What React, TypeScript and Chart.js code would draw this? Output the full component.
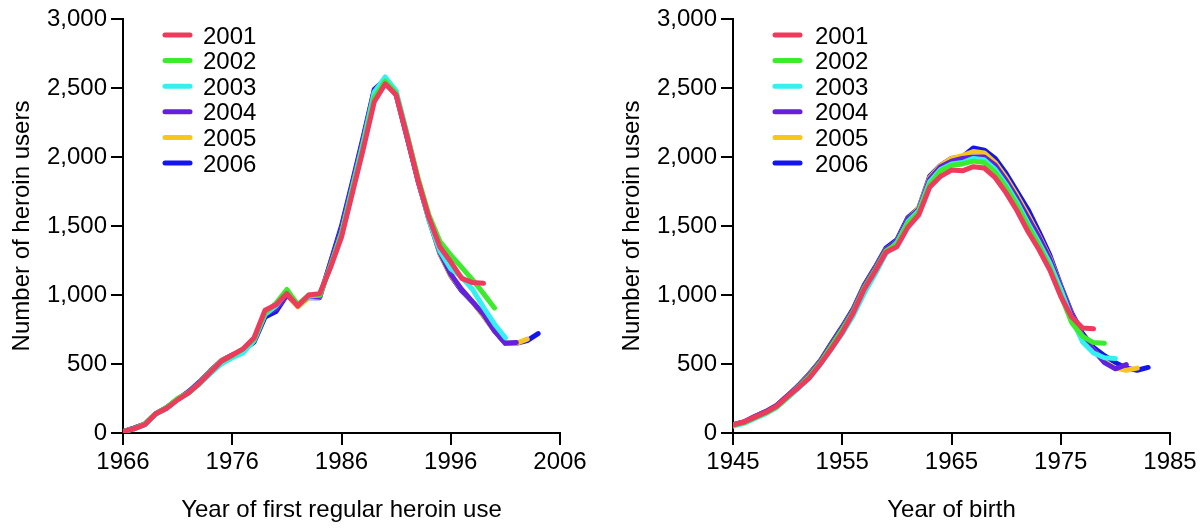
import React, { useEffect, useRef } from "react";
import { Chart, registerables } from "chart.js";

Chart.register(...registerables);

// ---------- data ----------
const seriesLabels = ["2001", "2002", "2003", "2004", "2005", "2006"];
const seriesColors = ["#EE3A5C", "#3DEB2E", "#34F0F0", "#6420DD", "#F7C51C", "#1414EE"];

// Left panel: year of first regular heroin use
const firstUseYears = [
  1966, 1967, 1968, 1969, 1970, 1971, 1972, 1973, 1974, 1975,
  1976, 1977, 1978, 1979, 1980, 1981, 1982, 1983, 1984, 1985,
  1986, 1987, 1988, 1989, 1990, 1991, 1992, 1993, 1994, 1995,
  1996, 1997, 1998, 1999, 2000, 2001, 2002, 2003, 2004,
];
const firstUse2001 = [10, 30, 60, 140, 180, 240, 290, 360, 440, 520, 565, 610, 690, 890, 930, 1010, 920, 1000, 1010, 1200, 1420, 1740, 2060, 2400, 2530, 2450, 2150, 1830, 1560, 1350, 1240, 1120, 1090, 1085];
const firstUse2002 = [10, 30, 65, 140, 185, 250, 290, 360, 445, 520, 560, 610, 680, 870, 940, 1040, 930, 1000, 1000, 1210, 1440, 1760, 2080, 2430, 2550, 2460, 2160, 1850, 1580, 1390, 1290, 1200, 1110, 1010, 905];
const firstUse2003 = [10, 30, 60, 135, 180, 245, 290, 355, 430, 500, 545, 580, 670, 860, 920, 1020, 925, 990, 1000, 1210, 1450, 1780, 2110, 2470, 2580, 2480, 2170, 1840, 1540, 1320, 1190, 1130, 1040, 910, 790, 690];
const firstUse2004 = [10, 35, 65, 140, 180, 245, 295, 365, 445, 520, 560, 600, 670, 860, 900, 1000, 930, 990, 990, 1230, 1480, 1800, 2130, 2480, 2560, 2460, 2150, 1830, 1550, 1310, 1150, 1040, 950, 860, 740, 650, 655];
const firstUse2005 = [10, 35, 65, 140, 180, 245, 295, 365, 445, 525, 560, 605, 680, 860, 905, 1000, 915, 980, 985, 1220, 1470, 1790, 2120, 2470, 2560, 2460, 2150, 1830, 1550, 1300, 1140, 1040, 950, 850, 740, 650, 650, 680];
const firstUse2006 = [10, 35, 65, 140, 185, 245, 300, 370, 450, 525, 565, 600, 660, 840, 880, 1000, 930, 980, 980, 1240, 1500, 1820, 2150, 2490, 2560, 2450, 2140, 1830, 1550, 1300, 1140, 1030, 950, 850, 740, 650, 650, 670, 720];

// Right panel: year of birth
const birthYears = [
  1945, 1946, 1947, 1948, 1949, 1950, 1951, 1952, 1953, 1954,
  1955, 1956, 1957, 1958, 1959, 1960, 1961, 1962, 1963, 1964,
  1965, 1966, 1967, 1968, 1969, 1970, 1971, 1972, 1973, 1974,
  1975, 1976, 1977, 1978, 1979, 1980, 1981, 1982, 1983,
];
const birth2001 = [60, 80, 115, 150, 195, 265, 330, 400, 500, 610, 730, 870, 1040, 1170, 1310, 1350, 1490, 1580, 1780, 1860, 1905, 1900, 1930, 1920, 1850, 1740, 1610, 1460, 1330, 1180, 990, 840, 760, 755];
const birth2002 = [55, 75, 110, 145, 190, 260, 335, 410, 510, 630, 750, 880, 1050, 1180, 1320, 1370, 1520, 1600, 1800, 1900, 1940, 1950, 1970, 1960, 1890, 1780, 1650, 1500, 1360, 1200, 1000, 800, 700, 655, 650];
const birth2003 = [50, 70, 105, 140, 185, 255, 325, 400, 500, 610, 720, 850, 1010, 1150, 1300, 1380, 1530, 1610, 1820, 1910, 1950, 1960, 1990, 1980, 1910, 1800, 1670, 1520, 1380, 1230, 1040, 830, 660, 580, 545, 540];
const birth2004 = [60, 80, 120, 155, 200, 270, 340, 420, 520, 640, 760, 890, 1060, 1190, 1330, 1390, 1550, 1620, 1840, 1930, 1970, 1990, 2000, 2000, 1940, 1830, 1700, 1560, 1420, 1260, 1060, 860, 700, 600, 510, 465, 495];
const birth2005 = [60, 80, 120, 155, 200, 270, 340, 425, 520, 640, 760, 890, 1060, 1190, 1330, 1390, 1550, 1630, 1850, 1940, 1990, 2010, 2040, 2030, 1960, 1850, 1720, 1580, 1430, 1270, 1060, 860, 700, 600, 520, 470, 455, 470];
const birth2006 = [60, 80, 120, 155, 200, 270, 345, 430, 525, 650, 770, 900, 1070, 1200, 1340, 1400, 1560, 1630, 1860, 1940, 1990, 2000, 2065, 2050, 1990, 1880, 1750, 1620, 1460, 1290, 1070, 870, 720, 620, 560, 510, 470, 455, 475];

const firstUseSeries = [firstUse2001, firstUse2002, firstUse2003, firstUse2004, firstUse2005, firstUse2006];
const birthSeries = [birth2001, birth2002, birth2003, birth2004, birth2005, birth2006];

const yMin = 0;
const yMax = 3000;
const yStep = 500;
const xStep = 10;

// ---------- chart ----------
const FONT = "'Liberation Sans', Arial, Helvetica, sans-serif";

type PanelProps = {
  years: number[];
  series: number[][];
  xMin: number;
  xMax: number;
  xTitle: string;
  yAxisWidth: number;
  padRight: number;
  yTitlePad: number;
  legendX: number;
  legendTextGap: number;
};

function Panel(p: PanelProps) {
  const ref = useRef<HTMLCanvasElement | null>(null);

  useEffect(() => {
    if (!ref.current) return;
    const legendPlugin = {
      id: "customLegend",
      afterDraw(chart: any) {
        const ctx = chart.ctx;
        ctx.save();
        const step = 25.6;
        const y0 = 35;
        seriesLabels.forEach((lab, i) => {
          const y = y0 + i * step;
          ctx.strokeStyle = seriesColors[i];
          ctx.lineWidth = 5;
          ctx.lineCap = "round";
          ctx.beginPath();
          ctx.moveTo(p.legendX, y);
          ctx.lineTo(p.legendX + 25, y);
          ctx.stroke();
          ctx.fillStyle = "#000";
          ctx.font = `24px ${FONT}`;
          ctx.textAlign = "left";
          ctx.textBaseline = "middle";
          ctx.fillText(lab, p.legendX + 25 + p.legendTextGap, y + 2);
        });
        ctx.restore();
      },
    };

    const datasets = p.series.map((vals, i) => ({
      label: seriesLabels[i],
      data: vals.map((v, j) => ({ x: p.years[j], y: v })),
      borderColor: seriesColors[i],
      backgroundColor: seriesColors[i],
      borderWidth: 5,
      borderCapStyle: "round" as const,
      borderJoinStyle: "round" as const,
      pointRadius: 0,
      tension: 0,
      fill: false,
    }));

    const chart = new Chart(ref.current, {
      type: "line",
      data: { datasets },
      plugins: [legendPlugin],
      options: {
        responsive: false,
        animation: false,
        devicePixelRatio: 1,
        layout: { padding: { top: 19, right: p.padRight, bottom: 0, left: 0 } },
        plugins: { legend: { display: false }, tooltip: { enabled: false } },
        scales: {
          x: {
            type: "linear",
            min: p.xMin,
            max: p.xMax,
            ticks: {
              stepSize: xStep,
              color: "#000",
              font: { size: 24, family: FONT },
              padding: 3,
              maxRotation: 0,
              callback: (v: any) => String(v),
            },
            grid: { drawOnChartArea: false, drawTicks: true, tickLength: 12, color: "#000", lineWidth: 2 },
            border: { display: true, color: "#000", width: 2 },
            title: {
              display: true,
              text: p.xTitle,
              color: "#000",
              font: { size: 24, family: FONT },
              padding: { top: 0, bottom: 4 },
            },
            afterFit: (s: any) => {
              s.height = 96;
            },
          },
          y: {
            type: "linear",
            min: yMin,
            max: yMax,
            ticks: {
              stepSize: yStep,
              color: "#000",
              font: { size: 24, family: FONT },
              padding: 4,
              callback: (v: any) => Number(v).toLocaleString("en-US"),
            },
            grid: { drawOnChartArea: false, drawTicks: true, tickLength: 12, color: "#000", lineWidth: 2 },
            border: { display: true, color: "#000", width: 2 },
            title: {
              display: true,
              text: "Number of heroin users",
              color: "#000",
              font: { size: 24, family: FONT },
              padding: { top: p.yTitlePad, bottom: 0 },
            },
            afterFit: (s: any) => {
              s.width = p.yAxisWidth;
            },
          },
        },
      },
    });
    return () => chart.destroy();
  }, []);

  return <canvas ref={ref} width={600} height={529} style={{ display: "block" }} />;
}

export default function App() {
  return (
    <div style={{ position: "fixed", left: 0, top: 0, width: 1200, height: 529, background: "#fff", display: "flex" }}>
      <div style={{ width: 600, height: 529 }}>
        <Panel
          years={firstUseYears}
          series={firstUseSeries}
          xMin={1966}
          xMax={2006}
          xTitle="Year of first regular heroin use"
          yAxisWidth={123}
          padRight={40}
          yTitlePad={8}
          legendX={165}
          legendTextGap={13}
        />
      </div>
      <div style={{ width: 600, height: 529 }}>
        <Panel
          years={birthYears}
          series={birthSeries}
          xMin={1945}
          xMax={1985}
          xTitle="Year of birth"
          yAxisWidth={133}
          padRight={30}
          yTitlePad={18}
          legendX={175}
          legendTextGap={15}
        />
      </div>
    </div>
  );
}
